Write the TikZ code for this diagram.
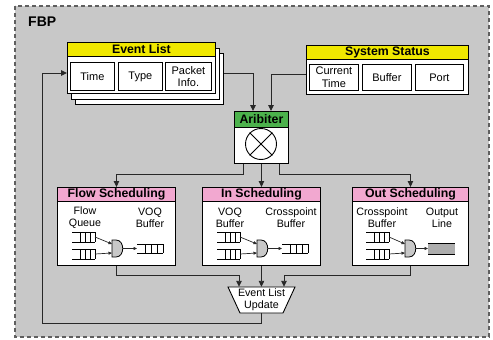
\documentclass[tikz,border=0pt]{standalone}
\usepackage{fontspec}
\setmainfont{Liberation Sans}
\usetikzlibrary{arrows.meta}
\definecolor{bggray}{RGB}{200,200,200}
\definecolor{ttlyellow}{RGB}{240,232,0}
\definecolor{ttlgreen}{RGB}{76,178,76}
\definecolor{ttlpink}{RGB}{242,168,208}
\definecolor{edgegray}{RGB}{95,95,95}
\definecolor{linegray}{RGB}{40,40,40}
\begin{document}
\begin{tikzpicture}[x=1pt,y=-1pt,
  box/.style={draw=black, fill=white, line width=0.9pt, inner sep=0pt, anchor=north west},
  ttl/.style={draw=black, line width=0.9pt, inner sep=0pt, anchor=north west, font=\fontsize{12.3}{14}\selectfont\bfseries},
  cell/.style={draw=black, fill=white, line width=0.8pt, inner sep=0pt, anchor=north west, align=center, font=\fontsize{11}{12.5}\selectfont},
  lbl/.style={align=center, inner sep=0pt, font=\fontsize{10.7}{12}\selectfont},
  conn/.style={line width=0.9pt, draw=linegray},
  arr/.style={conn, -{Triangle[length=6pt,width=5.5pt]}},
  sarr/.style={line width=0.7pt, draw=linegray, -{Triangle[length=3.5pt,width=3pt]}},
  queue/.pic={\draw[line width=0.8pt] (0,-5)--(23,-5) (0,5)--(23,5) (8,-5)--(8,5) (13,-5)--(13,5) (18,-5)--(18,5) (23,-5)--(23,5);},
  outq/.pic={\draw[line width=0.8pt] (0,-4.5)--(26,-4.5) (0,4.5)--(26,4.5) (8,-4.5)--(8,4.5) (14,-4.5)--(14,4.5) (20,-4.5)--(20,4.5) (26,-4.5)--(26,4.5);},
  gate/.pic={\draw[line width=0.8pt, fill=bggray] (0,-8.5) -- (4,-8.5) .. controls (13,-8.5) and (13,8.5) .. (4,8.5) -- (0,8.5) -- cycle;}
]
\useasboundingbox (0,0) rectangle (493,340);
% outer frame
\draw[dash pattern=on 4pt off 3pt, draw=edgegray, line width=1.1pt, fill=bggray] (15,6) rectangle (489,337);
\node[anchor=west, inner sep=0pt, font=\fontsize{14}{16}\selectfont\bfseries] (fbp) at (28,22) {FBP};

% Event list (stacked)
\node[box, minimum width=148pt, minimum height=51pt] (evl3) at (75,53) {};
\node[box, minimum width=148pt, minimum height=51pt] (evl2) at (71,47.5) {};
\node[box, minimum width=148pt, minimum height=51pt] (evl) at (67,42) {};
\node[ttl, fill=ttlyellow, minimum width=148pt, minimum height=14pt] (evlt) at (67,42) {Event List};
\node[cell, minimum width=44pt, minimum height=28pt] (c1) at (70,62) {Time};
\node[cell, minimum width=44pt, minimum height=28pt] (c2) at (118,62) {Type};
\node[cell, minimum width=46pt, minimum height=28pt] (c3) at (165,62) {Packet\\Info.};

% System status
\node[box, minimum width=162pt, minimum height=49pt] (sys) at (306,45) {};
\node[ttl, fill=ttlyellow, minimum width=162pt, minimum height=14pt] (syst) at (306,45) {System Status};
\node[cell, minimum width=49pt, minimum height=26pt] (s1) at (309,64) {Current\\Time};
\node[cell, minimum width=49pt, minimum height=26pt] (s2) at (362,64) {Buffer};
\node[cell, minimum width=48pt, minimum height=26pt] (s3) at (415,64) {Port};

% Arbiter
\node[box, minimum width=54pt, minimum height=52pt] (arb) at (234,111) {};
\node[ttl, fill=ttlgreen, minimum width=54pt, minimum height=16pt] (arbt) at (234,111) {Aribiter};
\node[circle, draw=black, line width=0.9pt, minimum size=31pt, inner sep=0pt] (xc) at (261,144) {};
\draw[line width=0.9pt] (xc.45) -- (xc.225) (xc.135) -- (xc.-45);

% Scheduling boxes
\node[box, minimum width=118pt, minimum height=78pt] (flow) at (57,187) {};
\node[ttl, fill=ttlpink, minimum width=118pt, minimum height=14pt] (flowt) at (57,187) {Flow Scheduling};
\node[box, minimum width=118pt, minimum height=78pt] (ins) at (202,187) {};
\node[ttl, fill=ttlpink, minimum width=118pt, minimum height=14pt] (inst) at (202,187) {In Scheduling};
\node[box, minimum width=116pt, minimum height=78pt] (outs) at (352,187) {};
\node[ttl, fill=ttlpink, minimum width=116pt, minimum height=14pt] (outst) at (352,187) {Out Scheduling};

% Flow scheduling internals
\begin{scope}[shift={(57,0)}]
  \node[lbl] (fl1) at (28,218) {Flow\\Queue};
  \node[lbl] (fl2) at (93,218) {VOQ\\Buffer};
  \pic at (15,237) {queue};
  \pic at (15,254) {queue};
  \pic at (55,248.5) {gate};
  \draw[sarr] (38,237) -- (55,244);
  \draw[sarr] (38,254) -- (55,253);
  \draw[sarr] (66,248.5) -- (80,248.5);
  \pic at (80,248.5) {outq};
\end{scope}
% In scheduling internals
\begin{scope}[shift={(202,0)}]
  \node[lbl] (il1) at (28,218) {VOQ\\Buffer};
  \node[lbl] (il2) at (89,218) {Crosspoint\\Buffer};
  \pic at (15,237) {queue};
  \pic at (15,254) {queue};
  \pic at (55,248.5) {gate};
  \draw[sarr] (38,237) -- (55,244);
  \draw[sarr] (38,254) -- (55,253);
  \draw[sarr] (66,248.5) -- (80,248.5);
  \pic at (80,248.5) {outq};
\end{scope}
% Out scheduling internals
\begin{scope}[shift={(352,0)}]
  \node[lbl] (ol1) at (30,218) {Crosspoint\\Buffer};
  \node[lbl] (ol2) at (90,218) {Output\\Line};
  \pic at (14,237) {queue};
  \pic at (14,254) {queue};
  \pic at (53,248.5) {gate};
  \draw[sarr] (37,237) -- (53,244);
  \draw[sarr] (37,254) -- (53,253);
  \draw[sarr] (64,248.5) -- (76,248.5);
  \fill[black!32] (76,243) rectangle (103,254);
  \draw[line width=0.8pt] (76,243) -- (103,243) (76,254) -- (103,254);
\end{scope}

% Event list update
\draw[line width=0.9pt, fill=white] (228,287) -- (295,287) -- (283,313) -- (240,313) -- cycle;
\node[lbl, minimum width=67pt, minimum height=26pt] (elu) at (261.5,300) {Event List\\Update};

% connectors
\coordinate (ja) at (253,73);
\draw[arr] (evl3.east |- ja) -- (ja) -- (ja |- arb.north);
\coordinate (jb) at (271,74);
\draw[arr] (sys.west |- jb) -- (jb) -- (jb |- arb.north);
\coordinate (jc) at (243,174);
\draw[arr] (jc |- arb.south) -- (jc) -- (jc -| flow.north) -- (flow.north);
\draw[arr] (arb.south) -- (ins.north);
\coordinate (jd) at (279,174);
\draw[arr] (jd |- arb.south) -- (jd) -- (jd -| outs.north) -- (outs.north);
\coordinate (je) at (239,275);
\draw[arr] (flow.south) -- (flow.south |- je) -- (je) -- (je |- elu.north);
\draw[arr] (ins.south) -- (ins.south |- elu.north);
\coordinate (jf) at (284,275);
\draw[arr] (outs.south) -- (outs.south |- jf) -- (jf) -- (jf |- elu.north);
\coordinate (jg) at (42,323);
\coordinate (jh) at (42,73);
\draw[arr] (elu.south -| ins.south) -- (ins.south |- jg) -- (jg) -- (jh) -- (evl.west |- jh);
\end{tikzpicture}
\end{document}
